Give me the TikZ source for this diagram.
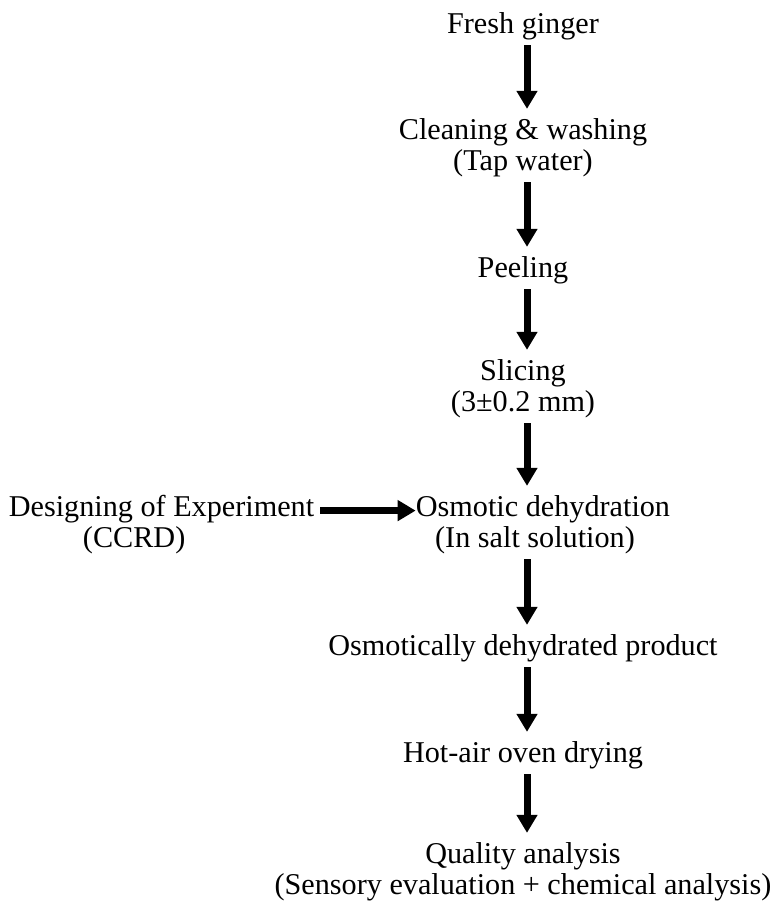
\documentclass[tikz,border=0pt]{standalone}
\usepackage{fontspec}
\setmainfont{Liberation Serif}
\usetikzlibrary{arrows.meta}
\begin{document}
\begin{tikzpicture}[
      x=0.75pt, y=-0.75pt,
      stage/.style={inner sep=0pt, anchor=base, align=center, font=\fontsize{22.65}{23.25}\selectfont},
      arrow/.style={-{Triangle[length=13.5pt, width=15pt]}, line width=5.25pt},
      down/.style={arrow, shorten <=4pt, shorten >=6.7pt}
  ]
  \useasboundingbox (0,0) rectangle (774,907);

  % Nodes (vertical flow), placed at the baseline of their last line
  \node[stage] (fresh) at (523,33) {Fresh ginger};
  \node[stage] (clean) at (523,170) {Cleaning \& washing\\(Tap water)};
  \node[stage] (peel) at (523,277) {Peeling};
  \node[stage] (slice) at (523,411) {Slicing\\(3±0.2 mm)};
  \node[stage] (osmo) at (543,547) {Osmotic dehydration\\(In salt solution)\hspace*{12pt}};
  \node[stage] (product) at (523,655) {Osmotically dehydrated product};
  \node[stage] (oven) at (523,762) {Hot-air oven drying};
  \node[stage] (quality) at (523,894) {Quality analysis\\(Sensory evaluation + chemical analysis)};
  \node[stage] (design) at (161.5,547) {Designing of Experiment\\(CCRD)\hspace*{41pt}};
  \coordinate (axis) at (527,0);

  % Arrows
  \draw[down] (fresh.south -| axis) -- (clean.north -| axis);
  \draw[down] (clean.south -| axis) -- (peel.north -| axis);
  \draw[down] (peel.south -| axis) -- (slice.north -| axis);
  \draw[down] (slice.south -| axis) -- (osmo.north -| axis);
  \draw[down] (osmo.south -| axis) -- (product.north -| axis);
  \draw[down] (product.south -| axis) -- (oven.north -| axis);
  \draw[down] (oven.south -| axis) -- (quality.north -| axis);
  \draw[arrow, shorten <=4.5pt] ([yshift=27.3pt]design.base east) -- ([yshift=27.3pt]osmo.base west);

\end{tikzpicture}
\end{document}
